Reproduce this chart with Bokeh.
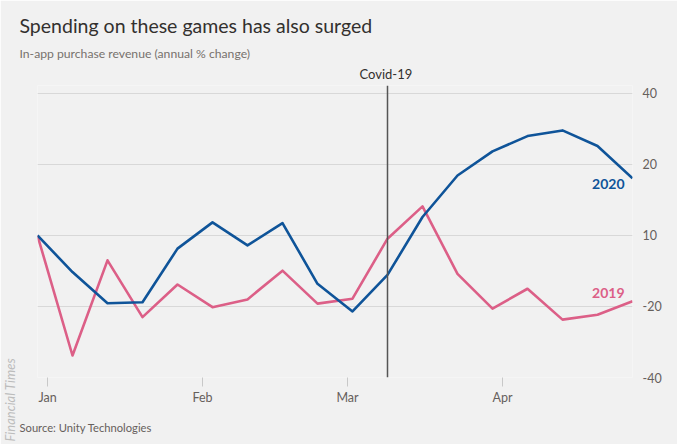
import pandas as pd
from bokeh.plotting import figure
from bokeh.models import Label, Span, FixedTicker, Range1d, Title
from bokeh.embed import file_html
from bokeh.resources import INLINE

# Weekly in-app purchase revenue, annual % change
week_dates = [
    "2019-12-30", "2020-01-06", "2020-01-13", "2020-01-20", "2020-01-27", "2020-02-03",
    "2020-02-10", "2020-02-17", "2020-02-24", "2020-03-02", "2020-03-09", "2020-03-16",
    "2020-03-23", "2020-03-30", "2020-04-06", "2020-04-13", "2020-04-20", "2020-04-27",
]
revenue_2020 = [0, -10.3, -19.1, -18.8, -3.7, 3.7, -2.8, 3.5, -13.6,
                -21.4, -11.1, 5.2, 16.9, 23.7, 28.0, 29.6, 25.2, 16.1]
revenue_2019 = [0, -33.8, -7.0, -23.0, -13.8, -20.2, -18.0, -9.9, -19.2,
                -17.8, -0.9, 8.2, -10.8, -20.6, -15.0, -23.7, -22.3, -18.5]

month_ticks = ["2020-01-01", "2020-02-01", "2020-03-01", "2020-04-01"]
month_labels = ["Jan", "Feb", "Mar", "Apr"]
y_ticks = [40, 20, 0, -20, -40]
y_tick_labels = ["40", "20", "10", "-20", "-40"]
covid_date = "2020-03-09"

TITLE = "Spending on these games has also surged"
SUBTITLE = "In-app purchase revenue (annual % change)"
SOURCE = "Source: Unity Technologies"

FONT = "Lato"
INK = "#33302e"
MUTED = "#66605c"
BG = "#f1f1f1"
BLUE = "#0f5499"
PINK = "#dc5f87"


def ms(d):
    return pd.Timestamp(d).value / 1e6


dates = pd.to_datetime(week_dates)

W, H = 677, 444
LEFT, RIGHT, TOP, BOTTOM = 37, 45, 85, 67

p = figure(
    width=W, height=H, output_backend="svg", toolbar_location=None, title=None,
    x_axis_type="datetime", y_axis_location="right",
    x_range=Range1d(ms(week_dates[0]), ms(week_dates[-1])),
    y_range=Range1d(-40, 42.25),
    min_border_left=LEFT, min_border_right=RIGHT,
    min_border_top=TOP, min_border_bottom=BOTTOM,
)
p.background_fill_color = BG
p.border_fill_color = BG
p.outline_line_color = None

# grid
p.xgrid.grid_line_color = None
p.ygrid.grid_line_color = "#d8d8d8"
p.ygrid.grid_line_width = 1

# y axis on the right
p.yaxis.ticker = FixedTicker(ticks=y_ticks)
p.yaxis.major_label_overrides = {t: lab for t, lab in zip(y_ticks, y_tick_labels)}
p.yaxis.axis_line_color = None
p.yaxis.major_tick_line_color = None
p.yaxis.minor_tick_line_color = None
p.yaxis.major_label_text_font = FONT
p.yaxis.major_label_text_font_size = "12.5px"
p.yaxis.major_label_text_color = MUTED
p.yaxis.major_label_standoff = 4

# x axis: month starts
tick_ms = [ms(d) for d in month_ticks]
p.xaxis.ticker = FixedTicker(ticks=tick_ms)
p.xaxis.major_label_overrides = {t: lab for t, lab in zip(tick_ms, month_labels)}
p.xaxis.axis_line_color = None
p.xaxis.major_tick_line_color = "#c8c8c8"
p.xaxis.major_tick_line_width = 1
p.xaxis.major_tick_in = 0
p.xaxis.major_tick_out = 9
p.xaxis.minor_tick_line_color = None
p.xaxis.major_label_standoff = 3
p.xaxis.major_label_text_font = FONT
p.xaxis.major_label_text_font_size = "12.5px"
p.xaxis.major_label_text_color = MUTED

# Covid-19 marker
p.add_layout(Span(location=ms(covid_date), dimension="height",
                  line_color="#555555", line_width=1.5))

# series
p.line(dates, revenue_2019, line_color=PINK, line_width=2.6, line_join="round")
p.line(dates, revenue_2020, line_color=BLUE, line_width=2.6, line_join="round")

# end-of-line series labels
p.add_layout(Label(x=ms(week_dates[-1]), y=14.4, text="2020", text_align="right",
                   x_offset=-8, text_baseline="middle", text_font=FONT,
                   text_font_size="14px", text_color=BLUE, text_font_style="bold"))
p.add_layout(Label(x=ms(week_dates[-1]), y=-16.1, text="2019", text_align="right",
                   x_offset=-8, text_baseline="middle", text_font=FONT,
                   text_font_size="14px", text_color=PINK, text_font_style="bold"))

# heading stack (closest to the plot first)
p.add_layout(Title(text="Covid-19", align="left", offset=322, standoff=5,
                   vertical_align="middle", text_baseline="middle",
                   text_font=FONT, text_font_size="13px", text_font_style="normal",
                   text_color=INK), "above")
p.add_layout(Title(text=SUBTITLE, align="left", offset=-18, standoff=2,
                   vertical_align="middle", text_baseline="middle",
                   text_font=FONT, text_font_size="12.2px", text_font_style="normal",
                   text_color="#77716d"), "above")
p.add_layout(Title(text=TITLE, align="left", offset=-18, standoff=12,
                   vertical_align="middle", text_baseline="middle",
                   text_font=FONT, text_font_size="19.5px", text_font_style="normal",
                   text_color=INK), "above")

# footer
p.add_layout(Title(text=SOURCE, align="left", offset=-18, standoff=22,
                   vertical_align="bottom", text_baseline="middle",
                   text_font=FONT, text_font_size="11.2px", text_font_style="normal",
                   text_color=MUTED), "below")

# left margin: a blank gap next to the plot, then the vertical credit line
p.add_layout(Title(text=" ", align="left", standoff=2,
                   text_font=FONT, text_font_size="12px"), "left")
p.add_layout(Title(text="Financial Times", align="left", offset=-64, standoff=0,
                   vertical_align="middle", text_baseline="middle",
                   text_font=FONT, text_font_size="13px", text_font_style="italic",
                   text_color="#bcbcbc"), "left")

open("out.html", "w").write(file_html(p, INLINE))
